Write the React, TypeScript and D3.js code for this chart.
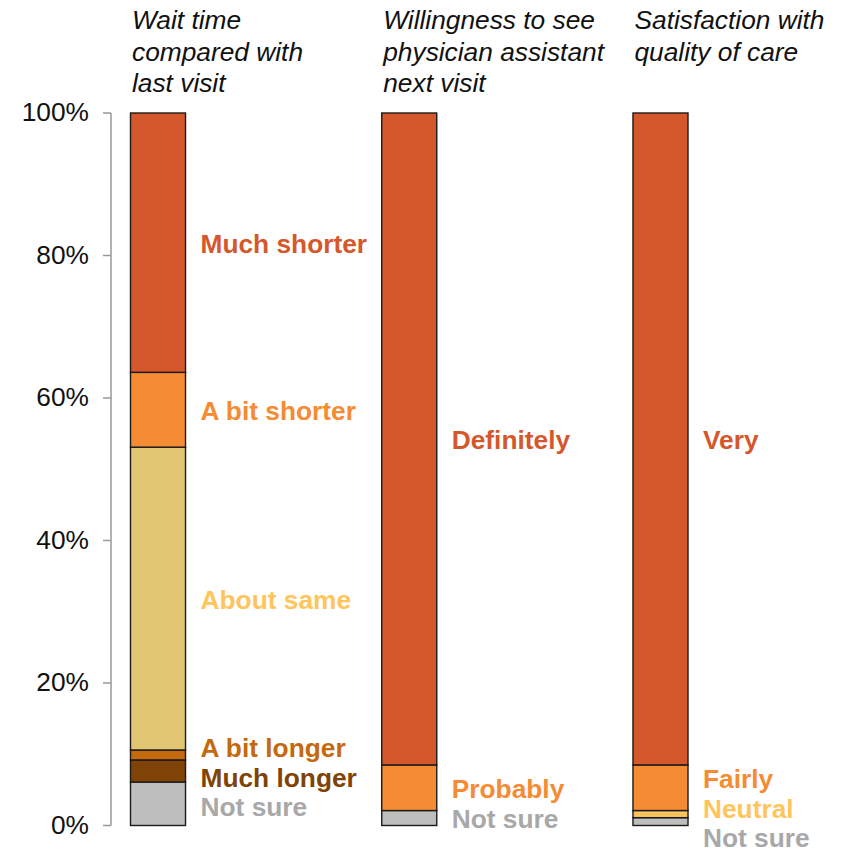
import React from "react";
import * as d3 from "d3";

const questions = ["wait", "pa", "care"];
const titleLines = [
  ["Wait time", "compared with", "last visit"],
  ["Willingness to see", "physician assistant", "next visit"],
  ["Satisfaction with", "quality of care"],
];

// bottom to top
const waitCats = ["Not sure", "Much longer", "A bit longer", "About same", "A bit shorter", "Much shorter"];
const waitVals = [6.1, 3.1, 1.4, 42.5, 10.5, 36.4];
const paCats = ["Not sure", "Probably", "Definitely"];
const paVals = [2.1, 6.4, 91.5];
const careCats = ["Not sure", "Neutral", "Fairly", "Very"];
const careVals = [1.1, 1.0, 6.4, 91.5];

const yTicks = [0, 20, 40, 60, 80, 100];

const fillColors: Record<string, string> = {
  "Much shorter": "#D5572C",
  Definitely: "#D5572C",
  Very: "#D5572C",
  "A bit shorter": "#F58B33",
  Probably: "#F58B33",
  Fairly: "#F58B33",
  "About same": "#E2C672",
  Neutral: "#FDC45E",
  "A bit longer": "#C4690E",
  "Much longer": "#7F4306",
  "Not sure": "#BEBEBE",
};
const textColors: Record<string, string> = {
  ...fillColors,
  "About same": "#FFC55C",
  Neutral: "#FFC55C",
  "Not sure": "#A8A8A8",
};

const FONT = "'Liberation Sans', Arial, Helvetica, sans-serif";

function repel(ys: number[], gap: number): number[] {
  const out = ys.slice();
  for (let it = 0; it < 500; it++) {
    let moved = false;
    for (let i = 0; i < out.length - 1; i++) {
      const d = out[i] - out[i + 1];
      if (d < gap) {
        const push = (gap - d) / 2;
        out[i] += push;
        out[i + 1] -= push;
        moved = true;
      }
    }
    if (!moved) break;
  }
  return out;
}

export default function App() {
  const W = 841, H = 853;
  const y = d3.scaleLinear().domain([0, 100]).range([825.5, 113]);
  const x = d3.scaleBand<string>().domain(questions).range([130.5, 688]).paddingInner(0.781).paddingOuter(0);
  const bw = x.bandwidth();
  const series = [
    { cats: waitCats, vals: waitVals },
    { cats: paCats, vals: paVals },
    { cats: careCats, vals: careVals },
  ];

  return (
    <svg width={W} height={H} style={{ position: "absolute", left: 0, top: 0, background: "#fff" }} fontFamily={FONT}>
      <g>
        <line x1={111} x2={111} y1={y(0)} y2={y(100)} stroke="#999" strokeWidth={1.5} />
        {yTicks.map((t) => (
          <g key={t}>
            <line x1={103} x2={111} y1={y(t)} y2={y(t)} stroke="#999" strokeWidth={1.5} />
            <text x={89} y={y(t)} dy="0.32em" textAnchor="end" fontSize={26.3} fill="#111">
              {t}%
            </text>
          </g>
        ))}
      </g>
      {series.map((s, qi) => {
        const q = questions[qi];
        const x0 = x(q)!;
        const stack = d3.cumsum(s.vals);
        const starts = s.vals.map((v, i) => stack[i] - v);
        const centers = s.vals.map((v, i) => y(starts[i] + v / 2));
        const labelYs = repel(centers, 29.5);
        return (
          <g key={q}>
            {titleLines[qi].map((ln, li) => (
              <text key={li} x={x0 + 1.5} y={29 + li * 31.5} fontSize={26.3} fontStyle="italic" fill="#111">
                {ln}
              </text>
            ))}
            {s.vals.map((v, i) => (
              <rect
                key={i}
                x={x0}
                width={bw}
                y={y(starts[i] + v)}
                height={y(starts[i]) - y(starts[i] + v)}
                fill={fillColors[s.cats[i]]}
                stroke="#1a1a1a"
                strokeWidth={1.4}
              />
            ))}
            {s.cats.map((c, i) => (
              <text
                key={c}
                x={x0 + bw + 15}
                y={labelYs[i]}
                dy="0.38em"
                fontSize={26.3}
                fontWeight="bold"
                fill={textColors[c]}
              >
                {c}
              </text>
            ))}
          </g>
        );
      })}
    </svg>
  );
}
